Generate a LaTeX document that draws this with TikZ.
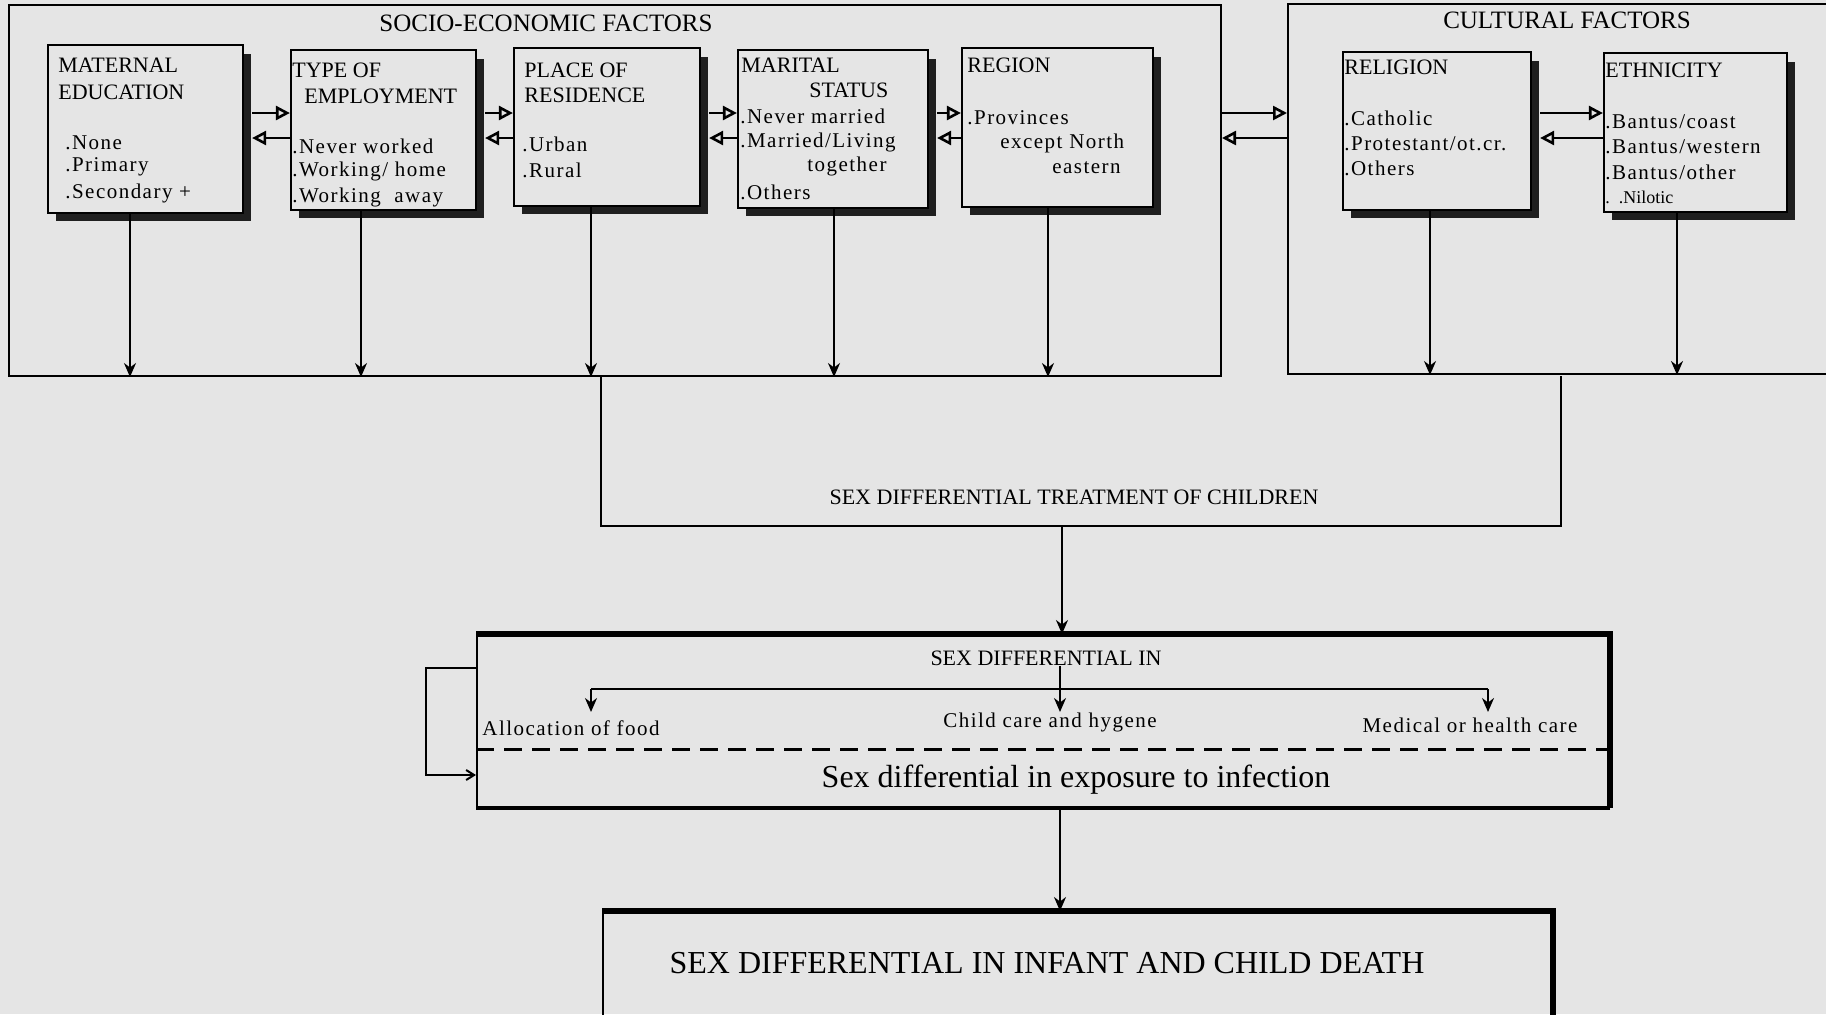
\documentclass[tikz,border=0pt]{standalone}
\usepackage{fontspec}
\setmainfont{Liberation Serif}
\newfontfamily\itfam[LetterSpace=7]{Liberation Serif}
\usetikzlibrary{arrows.meta,fit,calc}
\definecolor{paper}{RGB}{229,229,229}
\colorlet{shadowc}{black!88}
\tikzset{
 box/.style={draw, line width=1.1pt, fill=paper, inner sep=0pt},
 frame/.style={draw, line width=1pt, inner sep=0pt},
 hd/.style={anchor=west, inner sep=0pt, font=\fontsize{11}{12}\selectfont},
 itm/.style={anchor=west, inner sep=0pt, font=\itfam\fontsize{10.5}{12}\selectfont},
 ttl/.style={inner sep=0pt, font=\fontsize{12.5}{14}\selectfont},
 mid/.style={inner sep=0pt, font=\fontsize{11}{12}\selectfont},
 big/.style={inner sep=0pt, font=\fontsize{16}{18}\selectfont},
 varr/.style={line width=1pt, -{Stealth[length=7pt,width=6pt]}},
 harr/.style={line width=1.1pt, -{Triangle[open,length=7pt,width=7pt,line width=1.3pt]}},
 thin/.style={line width=1pt},
}
\newcommand\shbox[5]{%
 \fill[shadowc] (#2+8,#3+9) rectangle (#4+8,#5+8);
 \node[box, fit={(#2,#3) (#4,#5)}] (#1) {};}
\begin{document}
\begin{tikzpicture}[x=0.5pt,y=-0.5pt]
\useasboundingbox (0,0) rectangle (1826,1014);
\fill[paper] (0,0) rectangle (1826,1014);
\clip (0,0) rectangle (1826,1014);

% outer frames
\node[frame, fit={(9,5) (1221,376)}] (se) {};
\node[frame, fit={(1288,4) (1840,374)}] (cu) {};
\node[ttl] (setl) at (546,23) {SOCIO-ECONOMIC FACTORS};
\node[ttl] (cutl) at (1567,20) {CULTURAL FACTORS};

% factor boxes
\shbox{me}{48}{45}{243}{213}
\shbox{te}{291}{50}{476}{210}
\shbox{pr}{514}{48}{700}{206}
\shbox{ms}{738}{50}{928}{208}
\shbox{rg}{962}{48}{1153}{207}
\shbox{rl}{1343}{52}{1531}{210}
\shbox{et}{1604}{53}{1787}{212}

% texts
\node[hd] (me1) at (58,65) {MATERNAL};
\node[hd] (me2) at (58,92) {EDUCATION};
\node[itm] (me3) at (65,143) {.None};
\node[itm] (me4) at (65,167) {.Primary};
\node[itm] (me5) at (65,193) {.Secondary +};

\node[hd] (te1) at (292,70) {TYPE OF};
\node[hd] (te2) at (304,96) {EMPLOYMENT};
\node[itm] (te3) at (292,146) {.Never worked};
\node[itm] (te4) at (292,171) {.Working/ home};
\node[itm] (te5) at (292,197) {.Working\ \ away};

\node[hd] (pr1) at (524,70) {PLACE OF};
\node[hd] (pr2) at (524,95) {RESIDENCE};
\node[itm] (pr3) at (522,144) {.Urban};
\node[itm] (pr4) at (522,170) {.Rural};

\node[hd] (ms1) at (741,65) {MARITAL};
\node[hd] (ms2) at (809,90) {STATUS};
\node[itm] (ms3) at (740,116) {.Never married};
\node[itm] (ms4) at (740,142) {.Married/Living};
\node[itm] (ms5) at (807,166) {together};
\node[itm] (ms6) at (740,192) {.Others};

\node[hd] (rg1) at (967,65) {REGION};
\node[itm] (rg2) at (967,118) {.Provinces};
\node[itm] (rg3) at (1000,143) {except North};
\node[itm] (rg4) at (1052,168) {eastern};

\node[hd] (rl1) at (1344,67) {RELIGION};
\node[itm] (rl2) at (1344,118) {.Catholic};
\node[itm] (rl3) at (1344,144) {.Protestant/ot.cr.};
\node[itm] (rl4) at (1344,168) {.Others};

\node[hd] (et1) at (1605,70) {ETHNICITY};
\node[itm] (et2) at (1605,122) {.Bantus/coast};
\node[itm] (et3) at (1605,147) {.Bantus/western};
\node[itm] (et4) at (1605,172) {.Bantus/other};
\node[hd, font=\fontsize{9}{10}\selectfont] (et5) at (1605,197) {.\ \ .Nilotic};

% horizontal arrows
\coordinate (yU) at (0,113);
\coordinate (yL) at (0,138);
\foreach \a/\b in {me/te, te/pr, pr/ms, ms/rg, rl/et} {
  \coordinate (\a R) at ([xshift=4pt]\a.east);
  \draw[harr] (\a R |- yU) -- (\b.west |- yU);
  \draw[harr] (\b.west |- yL) -- (\a R |- yL);
}
\draw[harr] (se.east |- yU) -- (cu.west |- yU);
\draw[harr] (cu.west |- yL) -- (se.east |- yL);

% vertical arrows
\foreach \b/\x in {me/130, te/361, pr/591, ms/834, rg/1048} {
  \coordinate (v\b) at (\x,0);
  \draw[varr] (\b.south -| v\b) -- (se.south -| v\b);
}
\foreach \b/\x in {rl/1430, et/1677} {
  \coordinate (v\b) at (\x,0);
  \draw[varr] (\b.south -| v\b) -- (cu.south -| v\b);
}

% treatment
\node[inner sep=0pt, fit={(601,376) (1561,526)}] (tr) {};
\draw[thin] (tr.north west) -- (tr.south west) -- (tr.south east) -- (tr.north east);
\node[mid] (trt) at (1074,497) {SEX DIFFERENTIAL TREATMENT OF CHILDREN};

% sex differential in
\node[frame, fit={(477,635) (1609,807)}] (sd) {};
\draw[line width=3pt] (sd.north west) -- (sd.north east) -- (sd.south east);
\draw[line width=2pt] (sd.south east) -- (sd.south west);
\coordinate (xa) at (1062,0);
\draw[varr] (tr.south -| xa) -- (sd.north -| xa);

\node[mid] (sdt) at (1046,658) {SEX DIFFERENTIAL IN};
\coordinate (fanL) at (591,689);
\coordinate (fanR) at (1488,689);
\coordinate (fanC) at (1060,689);
\coordinate (tipY) at (0,712);
\node[itm, anchor=center] (a1) at (571,728) {Allocation of food};
\node[itm, anchor=center] (a2) at (1050,722) {Child care and hygene};
\node[itm, anchor=center] (a3) at (1470,725) {Medical or health care};
\draw[thin] (fanL) -- (fanR);
\draw[varr] (fanL) -- (fanL |- tipY);
\draw[varr] (fanR) -- (fanR |- tipY);
\draw[varr] (sdt.south -| fanC) -- (fanC |- tipY);

\coordinate (dy) at (0,749);
\draw[line width=1.5pt, dash pattern=on 9pt off 5pt] (sd.west |- dy) -- (sd.east |- dy);
\node[big] (ex) at (1076,780) {Sex differential in exposure to infection};

\coordinate (fbT) at (426,668);
\coordinate (fbB) at (426,775);
\draw[thin, -{Straight Barb[length=4pt,width=5pt]}] (sd.west |- fbT) -- (fbT) -- (fbB) -- (sd.west |- fbB);

% final
\node[frame, fit={(603,912) (1552,1040)}] (fd) {};
\draw[line width=3pt] (fd.north west) -- (fd.north east) -- (fd.south east);
\coordinate (xb) at (1060,0);
\draw[varr] (sd.south -| xb) -- (fd.north -| xb);
\node[big] (fdt) at (1047,963) {SEX DIFFERENTIAL IN INFANT AND CHILD DEATH};
\end{tikzpicture}
\end{document}
